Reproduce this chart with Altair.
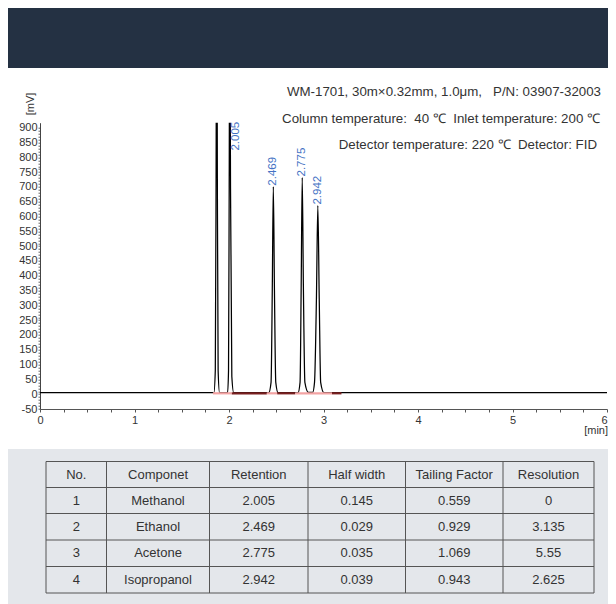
import altair as alt
import pandas as pd

# ---------------- data ----------------
# chromatogram signal (time in min, signal in mV)
sig_time = [0.000, 1.840, 1.855, 1.863, 1.870, 1.877, 1.885, 1.900,
            1.985, 1.995, 2.002, 2.008, 2.016, 2.030, 2.050,
            2.420, 2.445, 2.458, 2.469, 2.481, 2.495, 2.520,
            2.730, 2.752, 2.764, 2.775, 2.787, 2.803, 2.840,
            2.885, 2.905, 2.925, 2.940, 2.955, 2.970, 3.005, 6.000]
sig_mv = [5, 5, 80, 700, 1600, 700, 80, 5,
          5, 80, 700, 1400, 700, 60, 5,
          5, 40, 350, 701, 350, 40, 5,
          5, 40, 370, 732, 370, 40, 6,
          6, 40, 320, 637, 320, 40, 5, 5]

# labelled peaks
peak_rt = [2.005, 2.469, 2.775, 2.942]
peak_label_mv = [823, 701, 732, 637]

# integration baseline segments
integ_start = [1.83, 2.03, 2.40, 2.51, 2.70, 3.09]
integ_end = [2.03, 2.40, 2.51, 2.70, 3.09, 3.19]
integ_kind = ["peak", "gap", "peak", "gap", "peak", "gap"]

NB = "\u00a0"
header_lines = [
    "WM-1701, 30m×0.32mm, 1.0μm," + NB * 3 + "P/N: 03907-32003",
    "Column temperature:" + NB * 2 + "40" + NB + "℃" + NB * 2 + "Inlet temperature: 200" + NB + "℃",
    "Detector temperature: 220" + NB + "℃" + NB * 2 + "Detector: FID",
]

tbl_cols = ["No.", "Componet", "Retention", "Half width", "Tailing Factor", "Resolution"]
tbl_no = ["1", "2", "3", "4"]
tbl_comp = ["Methanol", "Ethanol", "Acetone", "Isopropanol"]
tbl_ret = ["2.005", "2.469", "2.775", "2.942"]
tbl_half = ["0.145", "0.029", "0.035", "0.039"]
tbl_tail = ["0.559", "0.929", "1.069", "0.943"]
tbl_res = ["0", "3.135", "5.55", "2.625"]

# ---------------- layout (page pixels) ----------------
OX, OY = 40.0, 122.7          # page position of the plot-area origin
PLOT_W, PLOT_H = 567, 286.3


def px(v):
    return v - OX


def py(v):
    return v - OY


FONT = "Liberation Sans, Arial, sans-serif"
TXT = "#333333"

one = alt.Data(values=[{}])

# backgrounds
header_bg = alt.Chart(one).mark_rect(color="#243143").encode(
    x=alt.value(px(0)), x2=alt.value(px(616)),
    y=alt.value(py(0)), y2=alt.value(py(68)))
gray_bg = alt.Chart(one).mark_rect(color="#e4e7eb").encode(
    x=alt.value(px(0)), x2=alt.value(px(616)),
    y=alt.value(py(449)), y2=alt.value(py(610)))

# header text
hdr_df = pd.DataFrame({"text": header_lines,
                       "y": [py(92 + 26.5 * i) for i in range(len(header_lines))],
                       "x": [px(601), px(600), px(597)]})
header_text = alt.Chart(hdr_df).mark_text(
    align="right", baseline="middle", font=FONT, fontSize=13.3, color=TXT
).encode(x=alt.X("x:Q", scale=None), y=alt.Y("y:Q", scale=None), text="text:N")

# table
col_edges = [46, 106.5, 209.5, 308, 405.5, 503, 594]
row_edges = [461.5, 487.5, 513.5, 540, 566.5, 593]
rows = [tbl_cols] + [list(r) for r in zip(tbl_no, tbl_comp, tbl_ret, tbl_half, tbl_tail, tbl_res)]
cells = []
for r, row in enumerate(rows):
    yc = (row_edges[r] + row_edges[r + 1]) / 2
    for c, txt in enumerate(row):
        xc = (col_edges[c] + col_edges[c + 1]) / 2
        cells.append({"x": px(xc), "y": py(yc), "text": txt})
cell_df = pd.DataFrame(cells)
table_text = alt.Chart(cell_df).mark_text(
    align="center", baseline="middle", font=FONT, fontSize=13, color=TXT
).encode(x=alt.X("x:Q", scale=None), y=alt.Y("y:Q", scale=None), text="text:N")

grid_lines = ([{"x": px(col_edges[0]), "x2": px(col_edges[-1]), "y": py(e), "y2": py(e)} for e in row_edges] +
              [{"x": px(e), "x2": px(e), "y": py(row_edges[0]), "y2": py(row_edges[-1])} for e in col_edges])
table_rules = alt.Chart(pd.DataFrame(grid_lines)).mark_rule(color="#555555", strokeWidth=1).encode(
    x=alt.X("x:Q", scale=None), x2="x2:Q", y=alt.Y("y:Q", scale=None), y2="y2:Q")

# chromatogram
x_scale = alt.Scale(domain=[0, 6], nice=False, zero=False)
y_scale = alt.Scale(domain=[-50, 917], nice=False, zero=False)
xticks = [i / 4 for i in range(25)]
yticks = list(range(-50, 901, 10))

sig_df = pd.DataFrame({"t": sig_time, "mv": sig_mv})
line = alt.Chart(sig_df).mark_line(
    color="black", strokeWidth=1.25, interpolate="monotone", clip=True
).encode(
    x=alt.X("t:Q", scale=x_scale, axis=alt.Axis(
        values=xticks, tickCount=len(xticks) + 5,
        labelExpr="datum.value % 1 == 0 ? '' + datum.value : ''",
        labelAlign=alt.ExprRef("datum.value == 6 ? 'right' : 'center'"),
        title=None, grid=False, labelFlush=False, labelOverlap=False,
        tickSize=3, labelPadding=2, domainColor="#555555", tickColor="#555555",
        labelFont=FONT, labelFontSize=11, labelColor=TXT)),
    y=alt.Y("mv:Q", scale=y_scale, axis=alt.Axis(
        values=yticks, tickCount=len(yticks) + 5,
        labelExpr="datum.value % 50 == 0 ? '' + datum.value : ''",
        title=None, grid=False, labelOverlap=False, labelBound=False,
        tickSize=2, labelPadding=1, domainColor="#444444", tickColor="#666666",
        labelFont=FONT, labelFontSize=11, labelColor=TXT)),
)

integ_df = pd.DataFrame({"s": integ_start, "e": integ_end, "kind": integ_kind,
                         "lvl": [3] * len(integ_start)})
integ = alt.Chart(integ_df).mark_rule(strokeWidth=2.2).encode(
    x="s:Q", x2="e:Q", y="lvl:Q",
    color=alt.Color("kind:N", scale=alt.Scale(domain=["peak", "gap"], range=["#f3a3a3", "#7a2020"]),
                    legend=None))

lab_df = pd.DataFrame({"t": peak_rt, "mv": peak_label_mv, "lab": [f"{v:.3f}" for v in peak_rt]})
labels_on = alt.Chart(lab_df.iloc[1:]).mark_text(
    angle=270, align="left", baseline="middle", color="#4472c4", fontSize=11.5, font=FONT, dx=1
).encode(x="t:Q", y="mv:Q", text="lab:N")
labels_off = alt.Chart(lab_df.iloc[:1]).mark_text(
    angle=270, align="left", baseline="middle", color="#4472c4", fontSize=11.5, font=FONT, dy=6.5
).encode(x="t:Q", y="mv:Q", text="lab:N")

mv_title = alt.Chart(one).mark_text(
    angle=270, align="center", baseline="middle", font=FONT, fontSize=11, color=TXT, text="[mV]"
).encode(x=alt.value(px(31)), y=alt.value(py(104)))
min_title = alt.Chart(one).mark_text(
    align="right", baseline="middle", font=FONT, fontSize=11, color=TXT, text="[min]"
).encode(x=alt.value(px(608)), y=alt.value(py(431)))

chart = alt.layer(
    header_bg, gray_bg, table_rules, table_text, header_text,
    line, integ, labels_on, labels_off, mv_title, min_title
).properties(
    width=PLOT_W, height=PLOT_H,
    autosize=alt.AutoSizeParams(type="none"),
    padding={"left": 32, "top": 114.7, "right": 1, "bottom": 195},
    background="white",
).configure_view(stroke=None)

chart.save("out.html", embed_options={"renderer": "svg", "actions": False})
